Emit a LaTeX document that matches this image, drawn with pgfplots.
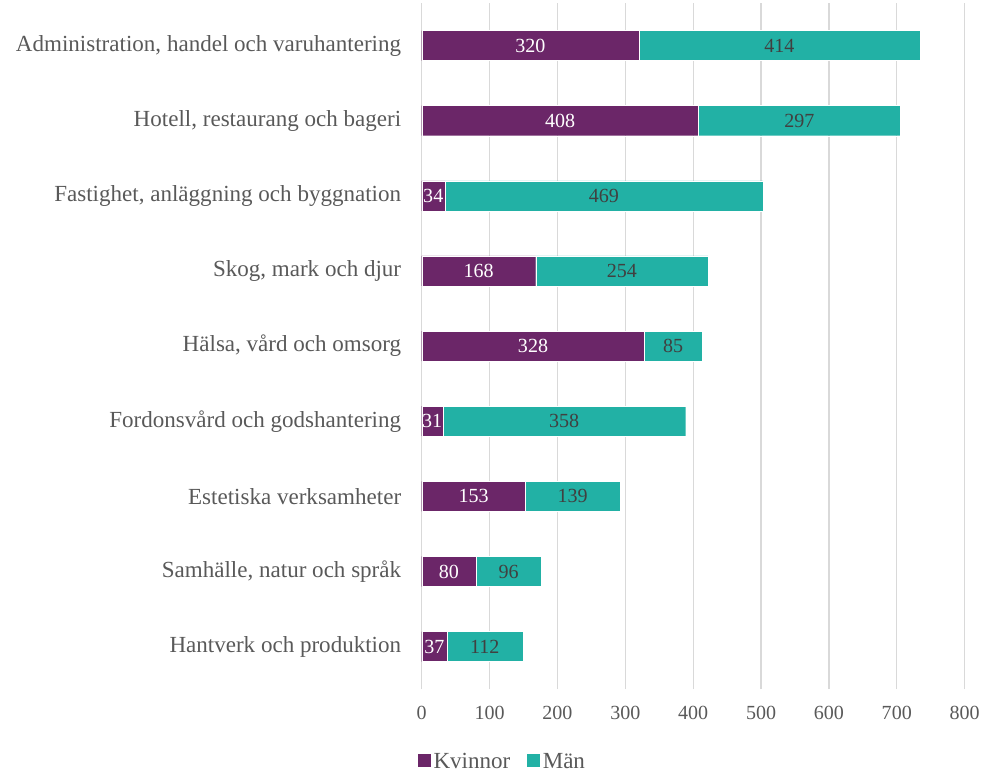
\documentclass[border=0pt]{standalone}
\usepackage{fontspec}
\setmainfont{Liberation Serif}
\usepackage{pgfplots}
\pgfplotsset{compat=1.18}
\usepackage{pgfplotstable}
\definecolor{kv}{RGB}{107,38,104}
\definecolor{mn}{RGB}{34,177,165}
\definecolor{txt}{RGB}{89,89,89}
\definecolor{grd}{RGB}{217,217,217}
\definecolor{dark}{RGB}{64,64,64}

% pos 0 = bottom row
\pgfplotstableread{
pos kvinnor man
0 37 112
1 80 96
2 153 139
3 31 358
4 328 85
5 168 254
6 34 469
7 408 297
8 320 414
}\data
% label positions: middle of each segment
\pgfplotstablecreatecol[create col/expr={\thisrow{kvinnor}/2}]{kmid}\data
\pgfplotstablecreatecol[create col/expr={\thisrow{kvinnor}+\thisrow{man}/2}]{mmid}\data

\newcommand\lblfont{\fontsize{23}{26}\selectfont}
\newcommand\numfont{\fontsize{20}{24}\selectfont}

\begin{document}
\begin{tikzpicture}
\pgfplotsset{common/.style={
    scale only axis, width=542pt, height=675pt,
    xmin=0, xmax=800, ymin=-0.5, ymax=8.5}}
\begin{axis}[
    common,
    xbar stacked, bar width=30pt,
    xtick={0,100,...,800},
    ytick={0,...,8},
    yticklabels={Hantverk och produktion, {Samhälle, natur och språk}, Estetiska verksamheter\ ,
      Fordonsvård och godshantering, {Hälsa, vård och omsorg\ }, {Skog, mark och djur\ },
      {Fastighet, anläggning och byggnation}, {Hotell, restaurang och bageri},
      {Administration, handel och varuhantering}},
    /pgf/number format/assume math mode=true,
    ticklabel style={txt},
    xticklabel style={font=\numfont, yshift=-13pt},
    yticklabel style={font=\lblfont, xshift=-12pt},
    axis line style={draw=none},
    xmajorgrids, grid style={grd, line width=1.2pt},
    tick align=outside, major tick length=5pt,
    xtick style={grd, line width=1.2pt},
    ytick style={draw=none},
    legend style={at={(0.148,-0.114)}, anchor=center, draw=none, legend columns=2,
      font=\lblfont, text=txt, inner sep=0pt,
      /tikz/every even column/.append style={column sep=14pt}},
    legend image code/.code={\fill[#1] (0pt,-6pt) rectangle (14pt,8pt);},
    extra description/.code={\path (rel axis cs:0,1) ++(-421pt,8pt);},
]
\addplot[fill=kv, draw=white, line width=0.4pt] table[x=kvinnor, y=pos] {\data};
\addplot[fill=mn, draw=white, line width=0.4pt] table[x=man, y=pos] {\data};
\legend{Kvinnor, Män}
\end{axis}
\begin{axis}[common, hide axis, clip=false]
\addplot[only marks, mark=none, nodes near coords, point meta=explicit symbolic,
    every node near coord/.style={anchor=center, white, font=\numfont}]
    table[x=kmid, y=pos, meta=kvinnor] {\data};
\addplot[only marks, mark=none, nodes near coords, point meta=explicit symbolic,
    every node near coord/.style={anchor=center, dark, font=\numfont}]
    table[x=mmid, y=pos, meta=man] {\data};
\end{axis}
\end{tikzpicture}
\end{document}
